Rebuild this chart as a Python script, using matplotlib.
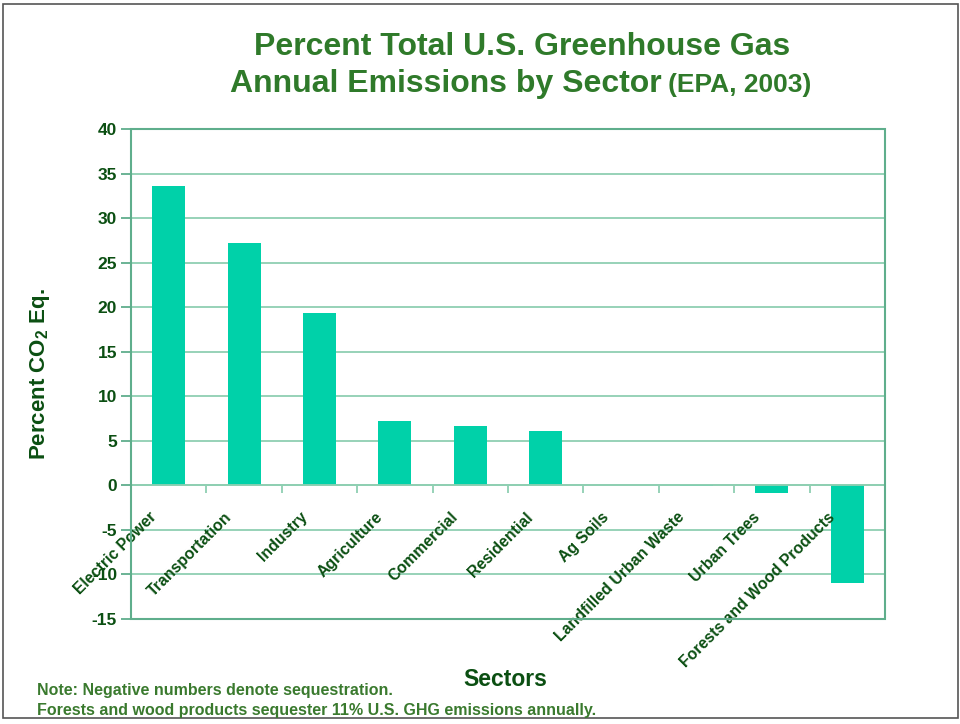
import matplotlib
matplotlib.use('Agg')
import matplotlib.pyplot as plt
import matplotlib.transforms as mtrans
from matplotlib.patches import Rectangle
import numpy as np

plt.rcParams['font.family'] = ['Liberation Sans', 'DejaVu Sans']
plt.rcParams['font.weight'] = 'bold'
plt.rcParams['axes.unicode_minus'] = False
plt.rcParams['mathtext.fontset'] = 'custom'
plt.rcParams['mathtext.rm'] = 'Liberation Sans:bold'
plt.rcParams['mathtext.bf'] = 'Liberation Sans:bold'

sectors = ['Electric Power', 'Transportation', 'Industry', 'Agriculture',
           'Commercial', 'Residential', 'Ag Soils', 'Landfilled Urban Waste',
           'Urban Trees', 'Forests and Wood Products']
percent = [33.6, 27.2, 19.4, 7.2, 6.7, 6.1, 0.0, -0.1, -0.9, -11.0]

bar_color = '#00D1A9'
grid_color = '#8FCFB2'
frame_color = '#5FAE8C'
text_dark = '#0B4F12'
title_green = '#2F7A2A'
note_green = '#3A7A2E'

fig = plt.figure(figsize=(9.6, 7.24), dpi=100)
ax = fig.add_axes([131/960, 105/724, 754/960, 490/724])

x = np.arange(len(sectors)) + 0.5
ax.bar(x, percent, width=0.44, color=bar_color, zorder=2)

ax.set_xlim(0, len(sectors))
ax.set_ylim(-15, 40)
ax.set_yticks(range(-15, 41, 5))
for v in range(-15, 41, 5):
    ax.axhline(v, color=grid_color, linewidth=1.3, zorder=1)

# zero line carries the category ticks
for s in ['top', 'right', 'left']:
    ax.spines[s].set_visible(False)
ax.spines['bottom'].set_position(('data', 0))
ax.spines['bottom'].set_color(grid_color)
ax.spines['bottom'].set_linewidth(1.3)
ax.add_patch(Rectangle((0, 0), 1, 1, transform=ax.transAxes, fill=False,
                       edgecolor=frame_color, linewidth=1.5, zorder=4, clip_on=False))

ax.set_xticks(np.arange(0, len(sectors) + 1))
ax.set_xticklabels([])
ax.tick_params(axis='x', length=6, color=grid_color, width=1.3)

# category labels, rotated, ending just left of each bar
shift = mtrans.ScaledTranslation(-20/100, -24/100, fig.dpi_scale_trans)
for xi, name in zip(x, sectors):
    ax.text(xi, 0, name, rotation=45, ha='right', va='top', rotation_mode='anchor',
            fontsize=11.4, color=text_dark, transform=ax.transData + shift, zorder=3)

ax.tick_params(axis='y', length=7, color=frame_color, width=1.3,
               labelsize=12.5, labelcolor=text_dark, pad=3)
for lab in ax.get_yticklabels():
    lab.set_fontweight('bold')

ax.set_ylabel(r'Percent CO$_\mathbf{2}$ Eq.', fontsize=16, color=text_dark,
              fontweight='bold')
ax.yaxis.set_label_coords(-0.105, 0.5)

fig.text(522/960, 1 - 55/724, 'Percent Total U.S. Greenhouse Gas', ha='center',
         va='baseline', fontsize=23, color=title_green)
fig.text(230/960, 1 - 92/724, 'Annual Emissions by Sector', ha='left',
         va='baseline', fontsize=23, color=title_green)
fig.text(668/960, 1 - 92/724, '(EPA, 2003)', ha='left', va='baseline',
         fontsize=19, color=title_green)

fig.text(505/960, 1 - 680/724, 'Sectors', ha='center', va='center',
         fontsize=16.5, color=text_dark)
fig.text(37/960, 1 - 690/724, 'Note: Negative numbers denote sequestration.',
         ha='left', va='center', fontsize=11.5, color=note_green)
fig.text(37/960, 1 - 710/724, 'Forests and wood products sequester 11% U.S. GHG emissions annually.',
         ha='left', va='center', fontsize=11.5, color=note_green)

fig.patches.append(Rectangle((3/960, 6/724), 955/960, 714/724, transform=fig.transFigure,
                             fill=False, edgecolor='#555555', linewidth=1.2))

fig.savefig('out.png', dpi=100)
